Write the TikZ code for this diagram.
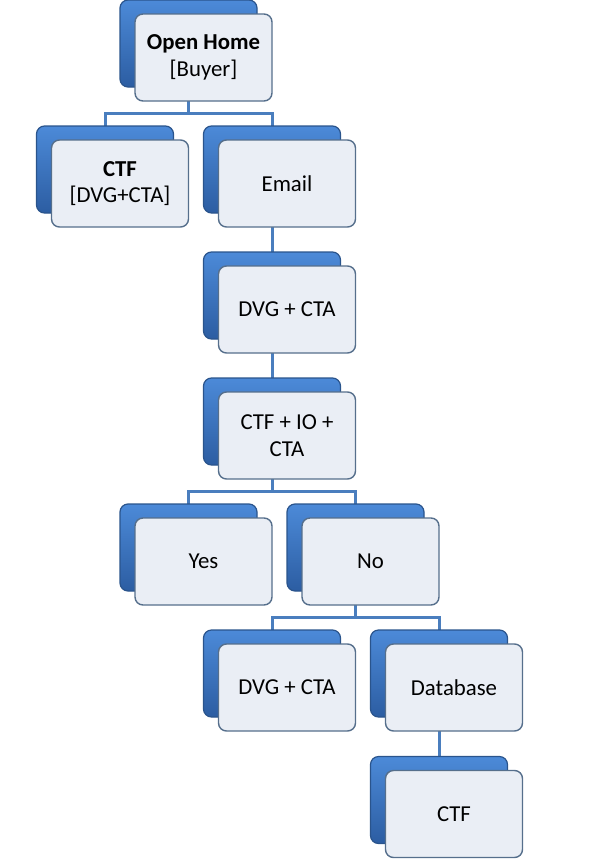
\documentclass[tikz,border=0pt]{standalone}
\usepackage{fontspec}
\setmainfont{Carlito}
\usetikzlibrary{backgrounds}
\definecolor{rimblue}{HTML}{4C8AD8}
\definecolor{deepblue}{HTML}{2C5DA2}
\definecolor{edgeblue}{HTML}{2A548C}
\definecolor{cardfill}{HTML}{EAEEF5}
\definecolor{cardedge}{HTML}{566F8C}
\definecolor{linkblue}{HTML}{4A7EBE}
\tikzset{
  shadowbox/.style={rectangle,rounded corners=4pt,minimum width=68.5pt,minimum height=43.5pt,
    top color=rimblue,bottom color=deepblue,draw=edgeblue,line width=0.6pt},
  cardbox/.style={rectangle,rounded corners=4pt,minimum width=68.5pt,minimum height=43.5pt,
    fill=cardfill,draw=cardedge,line width=0.7pt,
    align=center,font=\fontsize{11.4}{13.4}\selectfont},
  branch/.style={draw=linkblue,line width=1.5pt}
}
\begin{document}
\begin{tikzpicture}[x=0.5pt,y=-0.5pt]
\useasboundingbox (0,0) rectangle (593,867);
% Open Home
\node[shadowbox] (homeS) at (188.5,43.5) {};
\node[cardbox] (home) at (203.5,57.5) {\textbf{Open Home}\\{[Buyer]}};
% CTF / Email
\node[shadowbox] (ctfS) at (105,169.5) {};
\node[cardbox] (ctf) at (120,183.5) {\textbf{CTF}\\{[DVG+CTA]}};
\node[shadowbox] (emailS) at (272,169.5) {};
\node[cardbox] (email) at (287,183.5) {Email};
% DVG + CTA
\node[shadowbox] (dvgS) at (272,295.5) {};
\node[cardbox] (dvg) at (287,309.5) {DVG + CTA};
% CTF + IO + CTA
\node[shadowbox] (ctfioS) at (272,421.5) {};
\node[cardbox] (ctfio) at (287,435.5) {CTF + IO +\\CTA};
% Yes / No
\node[shadowbox] (yesS) at (188.5,547.5) {};
\node[cardbox] (yes) at (203.5,561.5) {Yes};
\node[shadowbox] (noS) at (355.5,547.5) {};
\node[cardbox] (no) at (370.5,561.5) {No};
% DVG + CTA / Database
\node[shadowbox] (dvgtwoS) at (272,673.5) {};
\node[cardbox] (dvgtwo) at (287,687.5) {DVG + CTA};
\node[shadowbox] (dbS) at (439,673.5) {};
\node[cardbox] (db) at (454,687.5) {Database};
% CTF
\node[shadowbox] (ctftwoS) at (439,800) {};
\node[cardbox] (ctftwo) at (454,814) {CTF};
% Verbindungen
\coordinate (forkA) at (188.5,113.5);
\coordinate (forkB) at (272,491.5);
\coordinate (forkC) at (355.5,617.5);
\begin{scope}[on background layer]
\draw[branch] (homeS.center) -- (forkA) -| (ctfS.center);
\draw[branch] (forkA) -| (emailS.center);
\draw[branch] (emailS.center) -- (dvgS.center);
\draw[branch] (dvgS.center) -- (ctfioS.center);
\draw[branch] (ctfioS.center) -- (forkB) -| (yesS.center);
\draw[branch] (forkB) -| (noS.center);
\draw[branch] (noS.center) -- (forkC) -| (dvgtwoS.center);
\draw[branch] (forkC) -| (dbS.center);
\draw[branch] (dbS.center) -- (ctftwoS.center);
\end{scope}
\end{tikzpicture}
\end{document}
